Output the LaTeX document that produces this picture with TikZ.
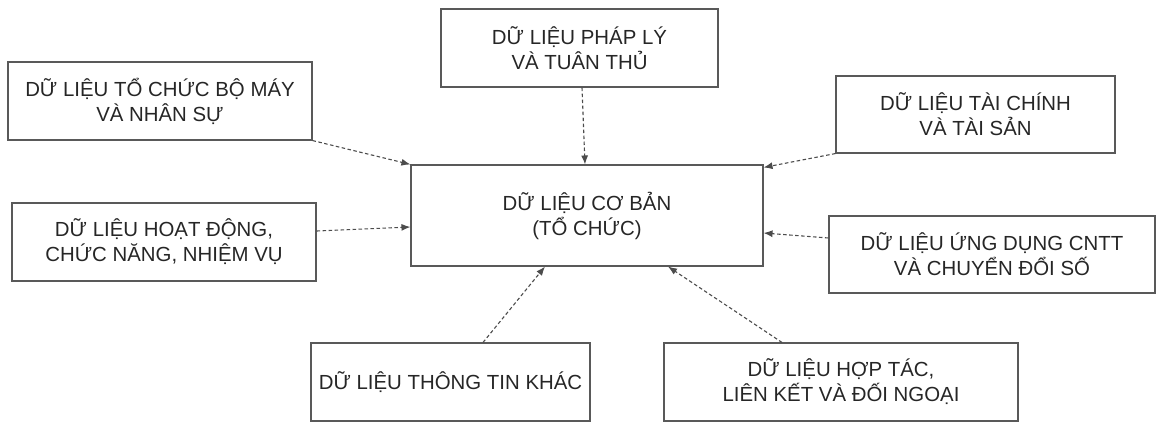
\documentclass[tikz,border=0pt]{standalone}
\usepackage{fontspec}
\setmainfont{Liberation Sans}
\usetikzlibrary{arrows.meta,calc}
\begin{document}
\begin{tikzpicture}[x=1pt,y=-1pt,
  databox/.style={draw=black!65,line width=1.1pt,rectangle,align=center,
    text=black!85,inner sep=0pt,
    font=\fontsize{20.4}{25}\selectfont},
  link/.style={draw=black!70,line width=1.1pt,dash pattern=on 3.5pt off 2.5pt,
    -{Latex[length=9pt,width=7pt]}}]
\useasboundingbox (0,0) rectangle (1157,423);
% central node
\node[databox,minimum width=352pt,minimum height=101pt] (core) at (587,215.5)
  {DỮ LIỆU CƠ BẢN\\(TỔ CHỨC)};
% surrounding data groups
\node[databox,minimum width=304pt,minimum height=78pt] (org) at (160,101)
  {DỮ LIỆU TỔ CHỨC BỘ MÁY\\VÀ NHÂN SỰ};
\node[databox,minimum width=277pt,minimum height=78pt] (law) at (579.5,48)
  {DỮ LIỆU PHÁP LÝ\\VÀ TUÂN THỦ};
\node[databox,minimum width=279pt,minimum height=77pt] (fin) at (975.5,114.5)
  {DỮ LIỆU TÀI CHÍNH\\VÀ TÀI SẢN};
\node[databox,minimum width=304pt,minimum height=78pt] (act) at (164,242)
  {DỮ LIỆU HOẠT ĐỘNG,\\CHỨC NĂNG, NHIỆM VỤ};
\node[databox,minimum width=326pt,minimum height=77pt] (it) at (992,254.5)
  {DỮ LIỆU ỨNG DỤNG CNTT\\VÀ CHUYỂN ĐỔI SỐ};
\node[databox,minimum width=279pt,minimum height=78pt] (other) at (450.5,382)
  {DỮ LIỆU THÔNG TIN KHÁC};
\node[databox,minimum width=354pt,minimum height=78pt] (coop) at (841,382)
  {DỮ LIỆU HỢP TÁC,\\LIÊN KẾT VÀ ĐỐI NGOẠI};
% dotted feeds into the central node
\draw[link] (org.south east) -- (core.north west);
\draw[link] ($(law.south)+(2.5,0)$) -- ($(core.north)+(-2,0)$);
\draw[link] (fin.south west) -- ($(core.north east)+(0,3)$);
\draw[link] ($(act.east)+(0,-11)$) -- ($(core.west)+(0,11.5)$);
\draw[link] ($(it.west)+(0,-16.5)$) -- ($(core.east)+(0,17.5)$);
\draw[link] ($(other.north)+(32.5,0)$) -- ($(core.south)+(-42,0)$);
\draw[link] ($(coop.north)+(-59,0)$) -- ($(core.south)+(81,0)$);
\end{tikzpicture}
\end{document}
